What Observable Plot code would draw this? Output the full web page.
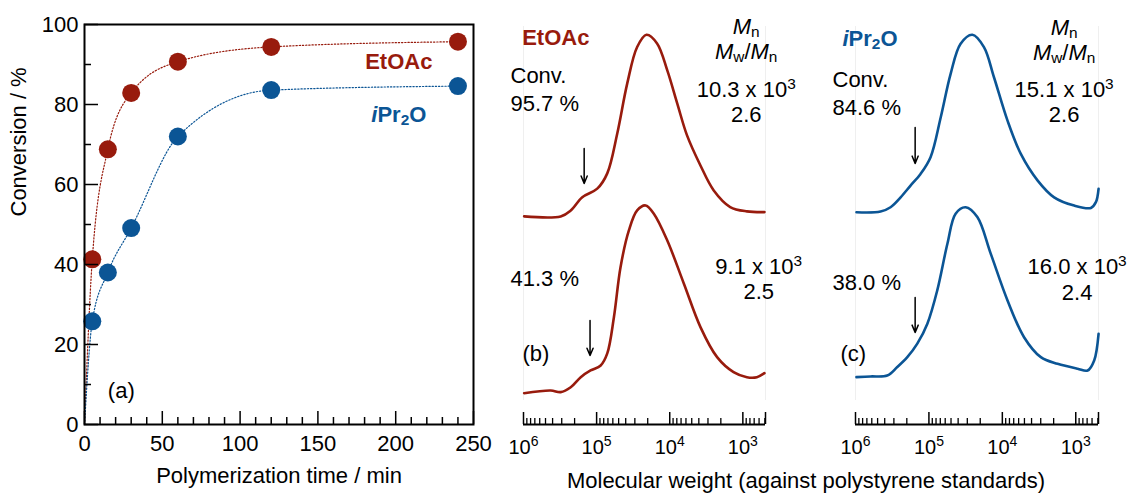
<!DOCTYPE html>
<html><head><meta charset="utf-8">
<script src="https://cdn.jsdelivr.net/npm/d3@7"></script>
<script src="https://cdn.jsdelivr.net/npm/@observablehq/plot@0.6"></script>
<style>
body{margin:0;background:#fff;}
#wrap{position:relative;width:1130px;height:494px;overflow:hidden;font-family:"Liberation Sans",Arial,sans-serif;}
#wrap svg{position:absolute;top:0;overflow:visible;}
#gpcTitle{position:absolute;left:806px;top:470px;transform:translateX(-50%);white-space:nowrap;font-size:22px;line-height:22px;color:#000;}
</style></head>
<body><div id="wrap"><div id="gpcTitle">Molecular weight (against polystyrene standards)</div></div>
<script>
// ---------- data: panel (a) kinetics ----------
const times = [5, 15, 30, 60, 120, 240];
const convEtOAc = [41.3, 68.8, 82.9, 90.7, 94.4, 95.7];
const convIPr2O = [25.8, 38.0, 49.1, 72.0, 83.6, 84.6];
const yMajor = [0, 20, 40, 60, 80, 100];
const yMinor = [10, 30, 50, 70, 90];
const xMajor = [0, 50, 100, 150, 200, 250];
const xMinor = [10, 20, 30, 40, 60, 70, 80, 90, 110, 120, 130, 140, 160, 170, 180, 190, 210, 220, 230, 240];

// ---------- data: GPC traces (molecular weight, detector signal) ----------
// (b) EtOAc, conv. 95.7 %
const mwB1 = [9.8e5, 3.1e5, 2.26e5, 1.57e5, 9.8e4, 7.15e4, 5.22e4, 3.81e4, 2.79e4, 2.08e4, 1.49e4, 1.08e4, 7.9e3, 5.8e3, 3.8e3, 2.5e3, 1.49e3, 880, 506];
const sigB1 = [0, 0, 0.033, 0.107, 0.154, 0.239, 0.461, 0.739, 0.941, 1.009, 0.961, 0.811, 0.628, 0.450, 0.283, 0.144, 0.052, 0.028, 0.024];
// (b) EtOAc, conv. 41.3 %
const mwB2 = [9.8e5, 4.25e5, 3.1e5, 2.26e5, 1.65e5, 1.21e5, 8.8e4, 7.15e4, 5.8e4, 4.71e4, 3.62e4, 2.79e4, 2.14e4, 1.65e4, 1.08e4, 6.4e3, 3.8e3, 2.25e3, 1.34e3, 880, 643, 506];
const sigB2 = [0, 0.015, 0.006, 0.033, 0.089, 0.126, 0.154, 0.221, 0.422, 0.700, 0.904, 1.015, 1.043, 0.997, 0.848, 0.608, 0.367, 0.2, 0.117, 0.089, 0.089, 0.111];
// (c) iPr2O, conv. 84.6 %
const mwC1 = [9.7e5, 4.56e5, 3.33e5, 2.43e5, 1.78e5, 1.30e5, 9.5e4, 6.9e4, 5.06e4, 3.7e4, 2.56e4, 1.78e4, 1.30e4, 8.5e3, 5.6e3, 3.3e3, 1.97e3, 1.05e3, 622, 532, 489];
const sigC1 = [0, 0.004, 0.028, 0.083, 0.148, 0.213, 0.306, 0.528, 0.769, 0.936, 0.986, 0.917, 0.75, 0.509, 0.324, 0.176, 0.083, 0.037, 0.024, 0.056, 0.130];
// (c) iPr2O, conv. 38.0 %
const mwC2 = [9.7e5, 6.24e5, 3.7e5, 2.7e5, 1.97e5, 1.44e5, 1.05e5, 7.7e4, 5.6e4, 4.33e4, 3.16e4, 2.19e4, 1.44e4, 8.5e3, 5.06e3, 2.99e3, 1.77e3, 944, 690, 561, 489];
const sigC2 = [0, 0.004, 0.009, 0.056, 0.111, 0.186, 0.297, 0.482, 0.741, 0.908, 0.944, 0.889, 0.686, 0.426, 0.222, 0.111, 0.074, 0.047, 0.037, 0.093, 0.241];
// vertical stacking offsets of the traces
const stackOffset = {B1: 1.156, B2: 0.174, C1: 1.179, C2: 0.263};
// shoulder arrows: molecular weight, arrow start / end (signal units)
const arrowsB = [{M: 1.48e5, y1: 1.533, y2: 1.339}, {M: 1.23e5, y1: 0.578, y2: 0.383}];
const arrowsC = [{M: 1.54e5, y1: 1.65, y2: 1.45}, {M: 1.54e5, y1: 0.706, y2: 0.511}];
const mwMajor = [1e6, 1e5, 1e4, 1e3];
const mwDomain = [1e6, 490];

const RED = "#981b0d", BLUE = "#0b5595";
const FONT = '"Liberation Sans", Arial, sans-serif';
const baseStyle = {fontFamily: FONT, fontSize: "22px", background: "transparent", overflow: "visible", color: "#000"};

const rows = (xs, ys, xk, yk) => xs.map((v, i) => ({[xk]: v, [yk]: ys[i]}));
const kinE = rows(times, convEtOAc, "t", "c");
const kinI = rows(times, convIPr2O, "t", "c");
const fitE = [{t: 0, c: 0}, ...kinE];
const fitI = [{t: 0, c: 0}, ...kinI];

const wrap = document.getElementById("wrap");

// ---------- panel (a) ----------
const pa = Plot.plot({
  width: 500, height: 494, marginLeft: 84, marginRight: 27, marginTop: 24, marginBottom: 70,
  x: {domain: [0, 250]}, y: {domain: [0, 100]},
  style: baseStyle,
  marks: [
    Plot.line(fitE, {x: "t", y: "c", curve: "monotone-x", stroke: RED, strokeWidth: 1.2, strokeDasharray: "1.3,1.9"}),
    Plot.line(fitI, {x: "t", y: "c", curve: "monotone-x", stroke: BLUE, strokeWidth: 1.2, strokeDasharray: "1.3,1.9"}),
    Plot.dot(kinE, {x: "t", y: "c", r: 9, fill: RED}),
    Plot.dot(kinI, {x: "t", y: "c", r: 9, fill: BLUE}),
    Plot.tickY(yMajor, {y: d => d, insetRight: 375, strokeWidth: 1.5}),
    Plot.tickY(yMinor, {y: d => d, insetRight: 382, strokeWidth: 1.5}),
    Plot.tickX(xMajor, {x: d => d, insetTop: 387, strokeWidth: 1.5}),
    Plot.tickX(xMinor, {x: d => d, insetTop: 393, strokeWidth: 1.5}),
    Plot.frame({strokeWidth: 2}),
    Plot.axisX({ticks: xMajor, tickSize: 0, tickPadding: 11, label: null}),
    Plot.axisY({ticks: yMajor, tickSize: 0, tickPadding: 6, label: null}),
    Plot.text(["Polymerization time / min"], {frameAnchor: "bottom", dy: 58}),
    Plot.text(["Conversion / %"], {frameAnchor: "left", rotate: -90, dx: -66, dy: -8}),
    Plot.text(["EtOAc"], {x: 202, y: 90.6, fill: RED, fontWeight: "bold"}),
    Plot.text(["{i:i}Pr{sub:2}O"], {x: 202, y: 77.4, fill: BLUE, fontWeight: "bold"}),
    Plot.text(["(a)"], {x: 15, y: 8.3, textAnchor: "start"})
  ]
});
pa.style.left = "0px";
wrap.appendChild(pa);

// ---------- GPC panels ----------
const mwMinor = d3.scaleLog().domain([mwDomain[1], mwDomain[0]]).ticks().filter(v => !mwMajor.includes(v));
const supFmt = d => `10{sup:${Math.round(Math.log10(d))}}`;

function gpcPanel(opts) {
  const {left, width, marginLeft, marginRight, color, traces, arrows, texts} = opts;
  const plotH = 494 - 24 - 70;
  const marks = [
    Plot.ruleX(mwDomain, {stroke: "#efefef", insetBottom: 24, insetTop: 2}),
    ...traces.map(([mw, sig, off]) =>
      Plot.line(rows(mw, sig, "M", "I"), {x: "M", y: d => d.I + off, curve: "catmull-rom", stroke: color, strokeWidth: 2.6})),
    Plot.arrow(arrows, {x1: "M", x2: "M", y1: "y1", y2: "y2", stroke: "#000", strokeWidth: 1.5, headLength: 8, headAngle: 45}),
    Plot.ruleY([0], {strokeWidth: 2}),
    Plot.tickX([...mwMajor, mwDomain[1]], {x: d => d, insetTop: plotH - 12, strokeWidth: 1.5}),
    Plot.tickX(mwMinor, {x: d => d, insetTop: plotH - 6, strokeWidth: 1.3}),
    Plot.axisX({ticks: mwMajor, tickSize: 0, tickPadding: 15, tickFormat: supFmt, label: null, fontSize: 20}),
    ...texts
  ];
  const p = Plot.plot({
    width, height: 494, marginLeft, marginRight, marginTop: 24, marginBottom: 70,
    x: {type: "log", domain: mwDomain},
    y: {domain: [0, 2.222], axis: null},
    style: baseStyle,
    marks
  });
  p.style.left = left + "px";
  wrap.appendChild(p);
  return p;
}

gpcPanel({
  left: 500, width: 330, marginLeft: 23, marginRight: 65, color: RED,
  traces: [[mwB1, sigB1, stackOffset.B1], [mwB2, sigB2, stackOffset.B2]],
  arrows: arrowsB,
  texts: [
    Plot.text(["EtOAc"], {x: 3.62e5, y: 2.15, fill: RED, fontWeight: "bold"}),
    Plot.text(["Conv."], {frameAnchor: "left", y: 1.936, dx: -13, textAnchor: "start"}),
    Plot.text(["95.7 %"], {frameAnchor: "left", y: 1.779, dx: -13, textAnchor: "start"}),
    Plot.text(["41.3 %"], {frameAnchor: "left", y: 0.807, dx: -13, textAnchor: "start"}),
    Plot.text(["(b)"], {frameAnchor: "left", y: 0.394, dx: -1, textAnchor: "start"}),
    Plot.text(["{i:M}{sub:n}"], {x: 900, y: 2.206}),
    Plot.text(["{i:M}{sub:w}/{i:M}{sub:n}"], {x: 900, y: 2.07}),
    Plot.text(["10.3 x 10{sup:3}"], {x: 900, y: 1.86}),
    Plot.text(["2.6"], {x: 900, y: 1.719}),
    Plot.text(["9.1 x 10{sup:3}"], {x: 607, y: 0.874}),
    Plot.text(["2.5"], {x: 607, y: 0.736})
  ]
});

gpcPanel({
  left: 830, width: 300, marginLeft: 25, marginRight: 32, color: BLUE,
  traces: [[mwC1, sigC1, stackOffset.C1], [mwC2, sigC2, stackOffset.C2]],
  arrows: arrowsC,
  texts: [
    Plot.text(["{i:i}Pr{sub:2}O"], {x: 6.34e5, y: 2.14, fill: BLUE, fontWeight: "bold"}),
    Plot.text(["Conv."], {frameAnchor: "left", y: 1.914, dx: -23, textAnchor: "start"}),
    Plot.text(["84.6 %"], {frameAnchor: "left", y: 1.760, dx: -23, textAnchor: "start"}),
    Plot.text(["38.0 %"], {frameAnchor: "left", y: 0.786, dx: -23, textAnchor: "start"}),
    Plot.text(["(c)"], {frameAnchor: "left", y: 0.394, dx: -15, textAnchor: "start"}),
    Plot.text(["{i:M}{sub:n}"], {x: 1439, y: 2.204}),
    Plot.text(["{i:M}{sub:w}/{i:M}{sub:n}"], {x: 1439, y: 2.064}),
    Plot.text(["15.1 x 10{sup:3}"], {x: 1439, y: 1.86}),
    Plot.text(["2.6"], {x: 1439, y: 1.721}),
    Plot.text(["16.0 x 10{sup:3}"], {x: 957, y: 0.874}),
    Plot.text(["2.4"], {x: 957, y: 0.733})
  ]
});

// ---------- rich text: italics, subscripts, superscripts ----------
const NS = "http://www.w3.org/2000/svg";
wrap.querySelectorAll("text").forEach(t => {
  const s = t.textContent;
  if (!s.includes("{")) return;
  const fs = parseFloat(getComputedStyle(t).fontSize) || 22;
  while (t.firstChild) t.removeChild(t.firstChild);
  const re = /\{(i|sub|sup):([^}]*)\}/g;
  let last = 0, m;
  const add = (txt, kind) => {
    const ts = document.createElementNS(NS, "tspan");
    ts.textContent = txt;
    if (kind === "i") ts.setAttribute("font-style", "italic");
    if (kind === "sub") { ts.setAttribute("font-size", (0.7 * fs) + "px"); ts.setAttribute("baseline-shift", (-0.12 * fs) + "px"); }
    if (kind === "sup") { ts.setAttribute("font-size", (0.7 * fs) + "px"); ts.setAttribute("baseline-shift", (0.38 * fs) + "px"); }
    t.appendChild(ts);
  };
  while ((m = re.exec(s))) {
    if (m.index > last) add(s.slice(last, m.index), null);
    add(m[2], m[1]);
    last = re.lastIndex;
  }
  if (last < s.length) add(s.slice(last), null);
});
</script>
</body></html>
